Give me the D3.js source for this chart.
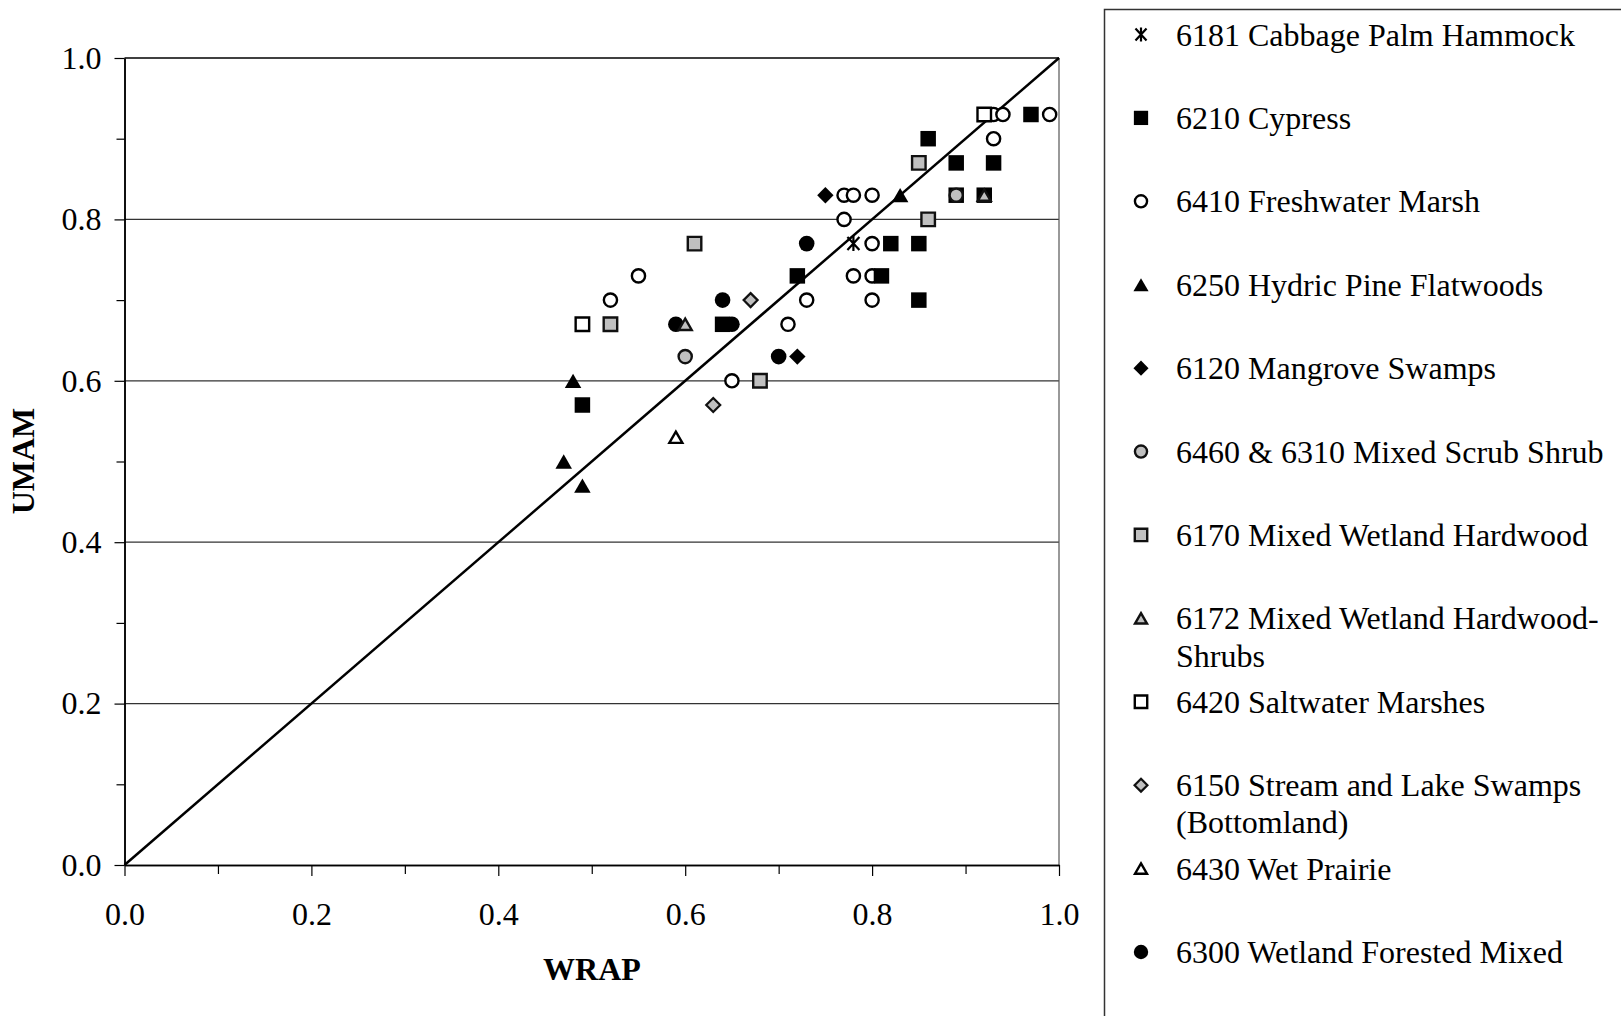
<!DOCTYPE html>
<html><head><meta charset="utf-8">
<script src="https://cdn.jsdelivr.net/npm/d3@7"></script>
<style>
body{margin:0;background:#fff;overflow:hidden}
text{font-family:"Liberation Serif","Times New Roman",serif;fill:#000}
</style>
</head><body>
<svg id="chart" width="1621" height="1016"></svg>
<script>
// ---- data (WRAP, UMAM) ----
const cabbagePalm = [[0.78,0.77]];
const cypress = [[0.97,0.93],[0.86,0.90],[0.89,0.87],[0.93,0.87],[0.89,0.83],[0.92,0.83],[0.82,0.77],[0.85,0.77],[0.81,0.73],[0.72,0.73],[0.85,0.70],[0.64,0.67],[0.49,0.57]];
const freshwaterMarsh = [[0.99,0.93],[0.93,0.93],[0.94,0.93],[0.93,0.90],[0.77,0.83],[0.78,0.83],[0.80,0.83],[0.77,0.80],[0.80,0.77],[0.78,0.73],[0.80,0.73],[0.73,0.70],[0.80,0.70],[0.71,0.67],[0.65,0.60],[0.55,0.73],[0.52,0.70]];
const hydricPine = [[0.83,0.83],[0.48,0.60],[0.47,0.50],[0.49,0.47]];
const mangrove = [[0.75,0.83],[0.72,0.63]];
const mixedScrub = [[0.89,0.83],[0.60,0.63]];
const mixedHardwood = [[0.85,0.87],[0.86,0.80],[0.61,0.77],[0.52,0.67],[0.68,0.60]];
const mixedHardwoodShrubs = [[0.92,0.83],[0.60,0.67]];
const saltwaterMarsh = [[0.92,0.93],[0.49,0.67]];
const streamLake = [[0.67,0.70],[0.63,0.57]];
const wetPrairie = [[0.59,0.53]];
const forestedMixed = [[0.73,0.77],[0.64,0.70],[0.59,0.67],[0.65,0.67],[0.70,0.63]];

const legendNames = [
  ["6181 Cabbage Palm Hammock"],
  ["6210 Cypress"],
  ["6410 Freshwater Marsh"],
  ["6250 Hydric Pine Flatwoods"],
  ["6120 Mangrove Swamps"],
  ["6460 & 6310 Mixed Scrub Shrub"],
  ["6170 Mixed Wetland Hardwood"],
  ["6172 Mixed Wetland Hardwood-","Shrubs"],
  ["6420 Saltwater Marshes"],
  ["6150 Stream and Lake Swamps","(Bottomland)"],
  ["6430 Wet Prairie"],
  ["6300 Wetland Forested Mixed"]
];
const markerTypes = ["star","squareFill","circleOpen","triFill","diamondFill","circleGray","squareGray","triGray","squareOpen","diamondGray","triOpen","circleFill"];
const seriesData = [cabbagePalm,cypress,freshwaterMarsh,hydricPine,mangrove,mixedScrub,mixedHardwood,mixedHardwoodShrubs,saltwaterMarsh,streamLake,wetPrairie,forestedMixed];
const drawOrder = [2,1,3,4,11,5,6,7,8,9,10,0];
const majorTicks = [0,0.2,0.4,0.6,0.8,1.0];
const minorTicks = [0.1,0.3,0.5,0.7,0.9];
const gridTicks = [0.2,0.4,0.6,0.8];

// ---- layout ----
const svg = d3.select("#chart");
const X0 = 124.5, X1 = 1059, Y0 = 865, Y1 = 58;
const x = d3.scaleLinear().domain([0,1]).range([X0,X1]);
const y = d3.scaleLinear().domain([0,1]).range([Y0,Y1]);
const GRAY = "#c0c0c0";

// gridlines
svg.append("g").selectAll("line").data(gridTicks).join("line")
  .attr("x1",X0).attr("x2",X1).attr("y1",d=>y(d)).attr("y2",d=>y(d))
  .attr("stroke","#333").attr("stroke-width",1.2);
// top & right border
svg.append("line").attr("x1",X0).attr("x2",X1).attr("y1",y(1)).attr("y2",y(1)).attr("stroke","#000").attr("stroke-width",1.5);
svg.append("line").attr("x1",X1).attr("x2",X1).attr("y1",Y1).attr("y2",Y0).attr("stroke","#555").attr("stroke-width",1.2);

// axes
const fmt = d3.format(".1f");
const gx = svg.append("g").attr("transform",`translate(0,${Y0})`)
  .call(d3.axisBottom(x).tickValues(majorTicks).tickFormat(fmt).tickSize(11).tickSizeOuter(0).tickPadding(26));
const gxm = svg.append("g").attr("transform",`translate(0,${Y0})`)
  .call(d3.axisBottom(x).tickValues(minorTicks).tickFormat("").tickSize(9).tickSizeOuter(0));
const gy = svg.append("g").attr("transform",`translate(${X0},0)`)
  .call(d3.axisLeft(y).tickValues(majorTicks).tickFormat(fmt).tickSize(10).tickSizeOuter(0).tickPadding(13));
const gym = svg.append("g").attr("transform",`translate(${X0},0)`)
  .call(d3.axisLeft(y).tickValues(minorTicks).tickFormat("").tickSize(8).tickSizeOuter(0));
[gx,gxm,gy,gym].forEach(g=>{
  g.selectAll("path.domain").attr("stroke","#000").attr("stroke-width",1.5);
  g.selectAll(".tick line").attr("stroke","#000").attr("stroke-width",1.2);
  g.selectAll("text").attr("font-family","Liberation Serif, Times New Roman, serif").attr("font-size",32).attr("fill","#000");
});

// diagonal 1:1 line
svg.append("line").attr("x1",x(0)).attr("y1",y(0)).attr("x2",x(1)).attr("y2",y(1))
  .attr("stroke","#000").attr("stroke-width",2.5);

// axis titles
svg.append("text").attr("x",592).attr("y",969).attr("text-anchor","middle").attr("dominant-baseline","central")
  .attr("font-size",32).attr("font-weight","bold").text("WRAP");
svg.append("text").attr("transform","translate(23,461) rotate(-90)").attr("text-anchor","middle").attr("dominant-baseline","central")
  .attr("font-size",32).attr("font-weight","bold").text("UMAM");

// marker drawing
function tri(s){const h=s*Math.sqrt(3)/2;return `M0,${-h/2}L${s/2},${h/2}L${-s/2},${h/2}Z`;}
function dia(r){return `M0,${-r}L${r},0L0,${r}L${-r},0Z`;}
function sq(s){return `M${-s/2},${-s/2}h${s}v${s}h${-s}Z`;}
function drawMarker(g,type,k){
  switch(type){
    case "star":
      g.append("path").attr("d",`M${-6*k},${-6.5*k}L${6*k},${6.5*k}M${-6*k},${6.5*k}L${6*k},${-6.5*k}M0,${-7.5*k}L0,${7.5*k}`)
        .attr("stroke","#000").attr("stroke-width",2.2).attr("fill","none"); break;
    case "squareFill":
      g.append("path").attr("d",sq(15.5*k)).attr("fill","#000"); break;
    case "squareGray":
      g.append("path").attr("d",sq(13.5*k)).attr("fill",GRAY).attr("stroke","#111").attr("stroke-width",2.4); break;
    case "squareOpen":
      g.append("path").attr("d",sq(13.5*k)).attr("fill","#fff").attr("stroke","#000").attr("stroke-width",2.4); break;
    case "circleFill":
      g.append("circle").attr("r",7.8*k).attr("fill","#000"); break;
    case "circleOpen":
      g.append("circle").attr("r",6.6*k).attr("fill","#fff").attr("stroke","#000").attr("stroke-width",2.4); break;
    case "circleGray":
      g.append("circle").attr("r",6.6*k).attr("fill",GRAY).attr("stroke","#111").attr("stroke-width",2.4); break;
    case "triFill":
      g.append("path").attr("d",tri(16.5*k)).attr("fill","#000"); break;
    case "triGray":
      g.append("path").attr("d",tri(13*k)).attr("fill",GRAY).attr("stroke","#111").attr("stroke-width",2.4).attr("stroke-linejoin","miter"); break;
    case "triOpen":
      g.append("path").attr("d",tri(13*k)).attr("fill","#fff").attr("stroke","#000").attr("stroke-width",2.4).attr("stroke-linejoin","miter"); break;
    case "diamondFill":
      g.append("path").attr("d",dia(8.2*k)).attr("fill","#000"); break;
    case "diamondGray":
      g.append("path").attr("d",dia(7*k)).attr("fill",GRAY).attr("stroke","#111").attr("stroke-width",2.2); break;
  }
}

// points
const pts = svg.append("g");
drawOrder.forEach(i=>{
  pts.append("g").selectAll("g").data(seriesData[i]).join("g")
    .attr("transform",d=>`translate(${x(d[0])},${y(d[1])})`)
    .each(function(){drawMarker(d3.select(this),markerTypes[i],1);});
});

// legend
const lg = svg.append("g");
lg.append("rect").attr("x",1104.5).attr("y",9.5).attr("width",700).attr("height",1100)
  .attr("fill","none").attr("stroke","#333").attr("stroke-width",1.5);
const legY = d3.scaleLinear().domain([0,11]).range([34.5,952]);
legendNames.forEach((lines,i)=>{
  const cy = legY(i);
  const mg = lg.append("g").attr("transform",`translate(1141,${cy})`);
  drawMarker(mg,markerTypes[i],0.92);
  lines.forEach((t,j)=>{
    lg.append("text").attr("x",1176).attr("y",cy+j*37.2).attr("dominant-baseline","central")
      .attr("font-size",32).text(t);
  });
});
</script>
</body></html>
